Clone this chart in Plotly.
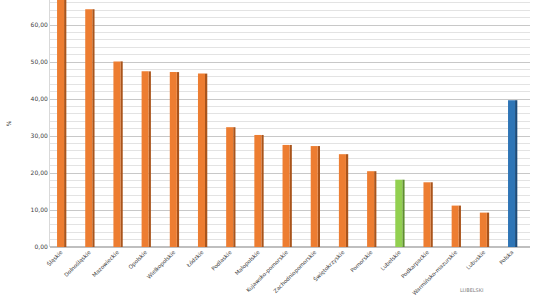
import plotly.graph_objects as go

regions = ["Śląskie", "Dolnośląskie", "Mazowieckie", "Opolskie", "Wielkopolskie",
           "Łódzkie", "Podlaskie", "Małopolskie", "Kujawsko-pomorskie",
           "Zachodniopomorskie", "Świętokrzyskie", "Pomorskie", "Lubelskie",
           "Podkarpackie", "Warmińsko-mazurskie", "Lubuskie", "Polska"]
values = [68.0, 64.3, 50.2, 47.5, 47.3, 46.9, 32.4, 30.3, 27.6, 27.3, 25.1,
          20.5, 18.2, 17.5, 11.2, 9.3, 39.7]
y_ticks = [0, 10, 20, 30, 40, 50, 60]

front_colors = []
side_colors = []
for r in regions:
    if r == "Lubelskie":
        front_colors.append("#92D050"); side_colors.append("#5f8f2e")
    elif r == "Polska":
        front_colors.append("#2E75B6"); side_colors.append("#1c4a78")
    else:
        front_colors.append("#ED7D31"); side_colors.append("#a9541b")

xs = list(range(len(regions)))

fig = go.Figure()
fig.add_trace(go.Bar(x=xs, y=values, width=0.08, offset=0.11,
                     marker=dict(color=side_colors, line=dict(width=0)),
                     hoverinfo="skip"))
fig.add_trace(go.Bar(x=xs, y=values, width=0.25, offset=-0.14,
                     marker=dict(color=front_colors, line=dict(width=0))))

fig.update_layout(
    width=540, height=304,
    margin=dict(l=50, r=10, t=0, b=57),
    paper_bgcolor="white", plot_bgcolor="white",
    barmode="overlay", showlegend=False,
    separators=", ",
    font=dict(family="DejaVu Sans", size=6, color="#404040"),
)
fig.update_xaxes(
    tickvals=xs, ticktext=regions, tickangle=-45,
    range=[-0.39, xs[-1] + 0.64], showgrid=False, zeroline=False,
    showline=False, ticks="", tickfont=dict(size=5.5, color="#404040"),
)
fig.update_yaxes(
    range=[0, 66.8], tickvals=y_ticks, tickformat=".2f",
    showgrid=True, gridcolor="#c8c8c8", gridwidth=1,
    minor=dict(dtick=2, showgrid=True, gridcolor="#e3e3e3", gridwidth=1),
    showline=True, linecolor="#d9d9d9", zeroline=True, zerolinecolor="#bfbfbf",
    tickfont=dict(size=6, color="#404040"), ticks="",
    title=dict(text="%", font=dict(size=6, color="#404040"), standoff=18),
)
fig.add_annotation(text="LUBELSKI", xref="paper", yref="paper", x=0.88, y=-0.175,
                   xanchor="center", yanchor="middle", showarrow=False,
                   font=dict(size=5, color="#7f7f7f"))
fig.write_html("out.html")
